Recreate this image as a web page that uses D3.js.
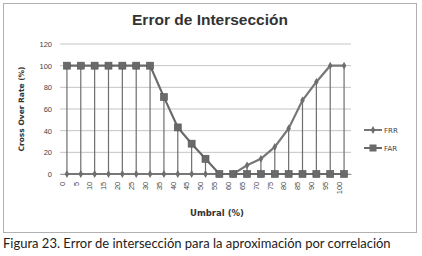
<!DOCTYPE html>
<html>
<head>
<meta charset="utf-8">
<script src="https://cdn.jsdelivr.net/npm/d3@7"></script>
<style>
  body { margin: 0; background: #fff; }
  svg { font-family: "DejaVu Sans", sans-serif; }
</style>
</head>
<body>
<svg id="chart" width="422" height="256"></svg>
<script>
const umbral = ["0","5","10","15","20","25","30","35","40","45","50","55","60","65","70","75","80","85","90","95","100"];
const frr = [0,0,0,0,0,0,0,0,0,0,0,0,0,8,14,25,42,68,85,100,100];
const far = [100,100,100,100,100,100,100,71,43,28,14,0,0,0,0,0,0,0,0,0,0];
const yTicks = [0,20,40,60,80,100,120];

const plot = { left: 60, right: 351, top: 44, bottom: 174 };

const svg = d3.select("#chart");

// chart frame
svg.append("rect")
  .attr("x", 3.5).attr("y", 3.5)
  .attr("width", 413).attr("height", 229)
  .attr("fill", "#fff").attr("stroke", "#b0b0b0");

const x = d3.scaleBand()
  .domain(umbral)
  .range([plot.left, plot.right]);

const y = d3.scaleLinear()
  .domain([0, 120])
  .range([plot.bottom, plot.top]);

const cx = d => x(d) + x.bandwidth() / 2;

// gridlines
svg.append("g")
  .selectAll("line")
  .data(yTicks)
  .enter().append("line")
  .attr("x1", plot.left).attr("x2", plot.right)
  .attr("y1", d => y(d)).attr("y2", d => y(d))
  .attr("stroke", "#c4c4c4").attr("stroke-width", 1);

// y axis labels
const yAxis = d3.axisLeft(y).tickValues(yTicks).tickSize(0).tickPadding(8);
svg.append("g")
  .attr("transform", `translate(${plot.left},0)`)
  .call(yAxis)
  .call(g => g.select(".domain").remove())
  .call(g => g.selectAll("text").attr("font-size", 7.5).attr("fill", "#444"));

// x axis labels, rotated
const xAxis = d3.axisBottom(x).tickSize(0).tickPadding(6);
svg.append("g")
  .attr("transform", `translate(0,${plot.bottom})`)
  .call(xAxis)
  .call(g => g.select(".domain").attr("stroke", "#999"))
  .call(g => g.selectAll("text")
    .attr("font-size", 7.5).attr("fill", "#444")
    .attr("transform", "rotate(-90)")
    .attr("text-anchor", "end")
    .attr("dx", "-0.5em").attr("dy", "-0.3em")
    .attr("y", 0).attr("x", -4));

// drop lines from the higher value of each category
svg.append("g")
  .selectAll("line")
  .data(umbral)
  .enter().append("line")
  .attr("x1", d => cx(d)).attr("x2", d => cx(d))
  .attr("y1", (d, i) => y(Math.max(frr[i], far[i])))
  .attr("y2", y(0))
  .attr("stroke", "#6e6e6e").attr("stroke-width", 1.2);

const line = d3.line()
  .x((v, i) => cx(umbral[i]))
  .y(v => y(v));

svg.append("path")
  .attr("d", line(frr))
  .attr("fill", "none").attr("stroke", "#777").attr("stroke-width", 2.2);

svg.append("path")
  .attr("d", line(far))
  .attr("fill", "none").attr("stroke", "#6a6a6a").attr("stroke-width", 2.2);

// FRR markers (small diamonds)
svg.append("g")
  .selectAll("path")
  .data(frr)
  .enter().append("path")
  .attr("d", d3.symbol(d3.symbolDiamond, 18))
  .attr("transform", (v, i) => `translate(${cx(umbral[i])},${y(v)})`)
  .attr("fill", "#6e6e6e");

// FAR markers (squares)
svg.append("g")
  .selectAll("rect")
  .data(far)
  .enter().append("rect")
  .attr("x", (v, i) => cx(umbral[i]) - 3.5)
  .attr("y", v => y(v) - 3.5)
  .attr("width", 7).attr("height", 7)
  .attr("fill", "#6a6a6a").attr("stroke", "#555").attr("stroke-width", 0.6);

// legend
const legend = svg.append("g").attr("transform", "translate(364,0)");
legend.append("line").attr("x1", 0).attr("x2", 18).attr("y1", 130).attr("y2", 130)
  .attr("stroke", "#777").attr("stroke-width", 2);
legend.append("path").attr("d", d3.symbol(d3.symbolDiamond, 18))
  .attr("transform", "translate(9,130)").attr("fill", "#6e6e6e");
legend.append("text").attr("x", 20).attr("y", 132.5).text("FRR")
  .attr("font-size", 7).attr("fill", "#444");
legend.append("line").attr("x1", 0).attr("x2", 18).attr("y1", 148).attr("y2", 148)
  .attr("stroke", "#6a6a6a").attr("stroke-width", 2);
legend.append("rect").attr("x", 5.5).attr("y", 144.5).attr("width", 7).attr("height", 7)
  .attr("fill", "#6a6a6a");
legend.append("text").attr("x", 20).attr("y", 150.5).text("FAR")
  .attr("font-size", 7).attr("fill", "#444");

// titles
svg.append("text")
  .attr("x", 210).attr("y", 25)
  .attr("text-anchor", "middle")
  .attr("font-family", "'Liberation Sans', sans-serif")
  .attr("font-size", 15.5).attr("font-weight", "bold").attr("fill", "#333")
  .text("Error de Intersección");

svg.append("text")
  .attr("transform", `translate(24,${(plot.top + plot.bottom) / 2}) rotate(-90)`)
  .attr("text-anchor", "middle")
  .attr("font-size", 7.5).attr("font-weight", "bold").attr("fill", "#333")
  .text("Cross Over Rate  (%)");

svg.append("text")
  .attr("x", 217).attr("y", 216)
  .attr("text-anchor", "middle")
  .attr("font-size", 8.5).attr("font-weight", "bold").attr("fill", "#333")
  .text("Umbral (%)");

// caption below the chart
svg.append("text")
  .attr("x", 3).attr("y", 248)
  .attr("font-size", 13).attr("fill", "#222")
  .attr("font-family", "Lato, sans-serif")
  .text("Figura 23. Error de intersección para la aproximación por correlación");
</script>
</body>
</html>
